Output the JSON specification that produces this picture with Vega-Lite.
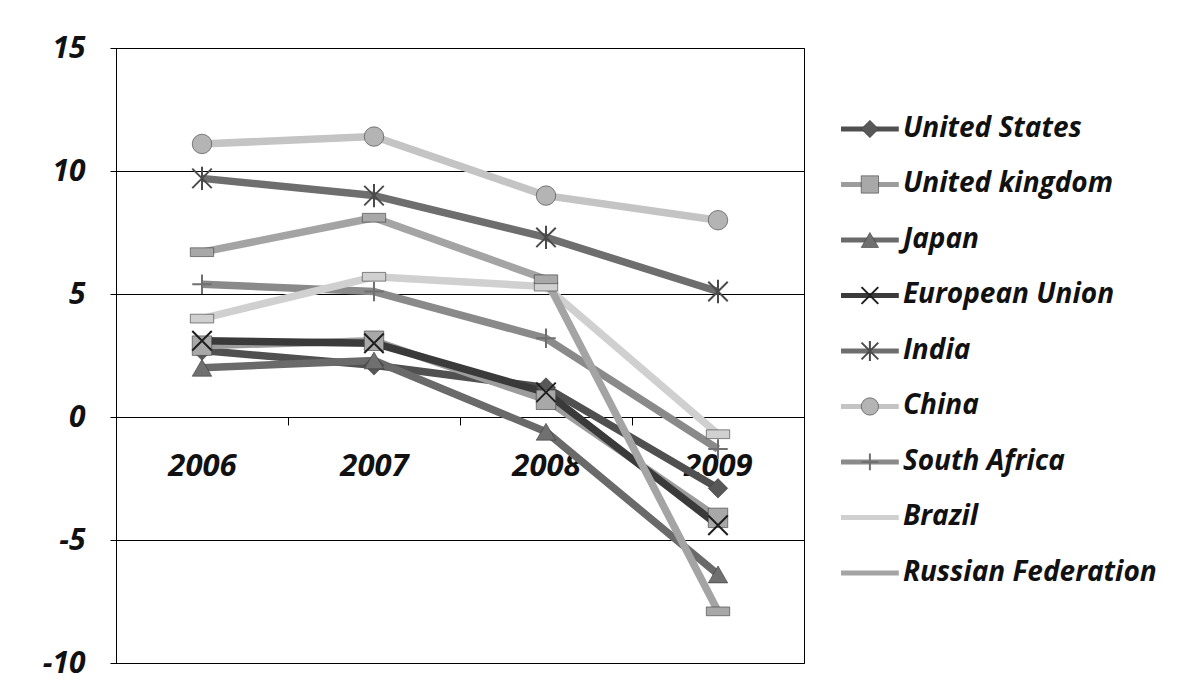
{
  "$schema": "https://vega.github.io/schema/vega-lite/v6.json",
  "padding": {"left": 41, "top": 32, "right": 5, "bottom": 5},
  "background": "white",
  "bounds": "flush",
  "spacing": 37,
  "config": {"font": "Open Sans"},
  "datasets": {
    "series": [
      {"country": "United  States", "year": "2006", "value": 2.7},
      {"country": "United  States", "year": "2007", "value": 2.1},
      {"country": "United  States", "year": "2008", "value": 1.2},
      {"country": "United  States", "year": "2009", "value": -2.9},
      {"country": "United kingdom", "year": "2006", "value": 2.9},
      {"country": "United kingdom", "year": "2007", "value": 3.1},
      {"country": "United kingdom", "year": "2008", "value": 0.7},
      {"country": "United kingdom", "year": "2009", "value": -4.1},
      {"country": "Japan", "year": "2006", "value": 2.0},
      {"country": "Japan", "year": "2007", "value": 2.3},
      {"country": "Japan", "year": "2008", "value": -0.6},
      {"country": "Japan", "year": "2009", "value": -6.4},
      {"country": "European Union", "year": "2006", "value": 3.1},
      {"country": "European Union", "year": "2007", "value": 3.0},
      {"country": "European Union", "year": "2008", "value": 1.0},
      {"country": "European Union", "year": "2009", "value": -4.4},
      {"country": "India", "year": "2006", "value": 9.7},
      {"country": "India", "year": "2007", "value": 9.0},
      {"country": "India", "year": "2008", "value": 7.3},
      {"country": "India", "year": "2009", "value": 5.1},
      {"country": "China", "year": "2006", "value": 11.1},
      {"country": "China", "year": "2007", "value": 11.4},
      {"country": "China", "year": "2008", "value": 9.0},
      {"country": "China", "year": "2009", "value": 8.0},
      {"country": "South Africa", "year": "2006", "value": 5.4},
      {"country": "South Africa", "year": "2007", "value": 5.1},
      {"country": "South Africa", "year": "2008", "value": 3.2},
      {"country": "South Africa", "year": "2009", "value": -1.3},
      {"country": "Brazil", "year": "2006", "value": 4.0},
      {"country": "Brazil", "year": "2007", "value": 5.7},
      {"country": "Brazil", "year": "2008", "value": 5.3},
      {"country": "Brazil", "year": "2009", "value": -0.7},
      {"country": "Russian Federation", "year": "2006", "value": 6.7},
      {"country": "Russian Federation", "year": "2007", "value": 8.1},
      {"country": "Russian Federation", "year": "2008", "value": 5.6},
      {"country": "Russian Federation", "year": "2009", "value": -7.9}
    ],
    "legend": [
      {"country": "United  States", "order": 1},
      {"country": "United kingdom", "order": 2},
      {"country": "Japan", "order": 3},
      {"country": "European Union", "order": 4},
      {"country": "India", "order": 5},
      {"country": "China", "order": 6},
      {"country": "South Africa", "order": 7},
      {"country": "Brazil", "order": 8},
      {"country": "Russian Federation", "order": 9}
    ]
  },
  "hconcat": [
    {
      "width": 688,
      "height": 615,
      "view": {"stroke": "#000", "strokeWidth": 1},
      "data": {"name": "series"},
      "encoding": {
        "x": {
          "field": "year", "type": "ordinal",
          "scale": {"type": "band", "paddingInner": 0, "paddingOuter": 0},
          "axis": {
            "orient": "bottom", "offset": -246, "tickBand": "extent", "title": null,
            "grid": false, "domainColor": "#000", "tickColor": "#000", "tickSize": 8,
            "labelAngle": 0, "labelFont": "Open Sans", "labelFontSize": 31,
            "labelFontWeight": "bold", "labelFontStyle": "italic", "labelColor": "#111",
            "labelPadding": 26
          }
        },
        "y": {
          "field": "value", "type": "quantitative",
          "scale": {"domain": [-10, 15], "nice": false, "zero": false},
          "axis": {
            "values": [-10, -5, 0, 5, 10, 15], "title": null, "grid": true,
            "gridColor": "#000", "gridOpacity": 1, "gridWidth": 1,
            "domainColor": "#000", "tickColor": "#000", "tickSize": 6,
            "labelFont": "Open Sans", "labelFontSize": 30, "labelFontWeight": "bold",
            "labelFontStyle": "italic", "labelColor": "#111", "labelPadding": 25,
            "labelExpr": "'' + datum.value"
          }
        }
      },
      "layer": [
        {
          "mark": {"type": "line", "strokeWidth": 7.5, "strokeJoin": "round"},
          "encoding": {
            "color": {
              "field": "country", "type": "nominal", "legend": null,
              "scale": {
                "domain": ["United  States", "United kingdom", "Japan", "European Union", "India", "China", "South Africa", "Brazil", "Russian Federation"],
                "range": ["#505050", "#9c9c9c", "#6a6a6a", "#3a3a3a", "#6e6e6e", "#c4c4c4", "#8a8a8a", "#d0d0d0", "#a4a4a4"]
              }
            }
          }
        },
        {
          "transform": [{"filter": {"field": "country", "oneOf": ["United  States", "United kingdom", "Japan", "China", "Brazil", "Russian Federation"]}}],
          "mark": {"type": "point", "filled": true, "size": 380, "opacity": 1, "stroke": "#3a3a3a", "strokeWidth": 0.6},
          "encoding": {
            "fill": {
              "field": "country", "type": "nominal", "legend": null,
              "scale": {
                "domain": ["United  States", "United kingdom", "Japan", "China", "Brazil", "Russian Federation"],
                "range": ["#585858", "#a8a8a8", "#707070", "#b4b4b4", "#d0d0d0", "#a8a8a8"]
              }
            },
            "shape": {
              "field": "country", "type": "nominal", "legend": null,
              "scale": {
                "domain": ["United  States", "United kingdom", "Japan", "European Union", "India", "China", "South Africa", "Brazil", "Russian Federation"],
                "range": ["diamond", "square", "triangle-up", "M-1,-1L1,1M-1,1L1,-1", "M-1,-1L1,1M-1,1L1,-1M0,-1.2L0,1.2", "circle", "M0,-1L0,1M-1,0L1,0", "M-1.2,-0.45L1.2,-0.45L1.2,0.45L-1.2,0.45Z", "M-1.2,-0.45L1.2,-0.45L1.2,0.45L-1.2,0.45Z"]
              }
            }
          }
        },
        {
          "transform": [{"filter": {"field": "country", "oneOf": ["European Union", "India", "South Africa"]}}],
          "mark": {"type": "point", "filled": false, "size": 380, "opacity": 1, "strokeWidth": 2},
          "encoding": {
            "stroke": {
              "field": "country", "type": "nominal", "legend": null,
              "scale": {
                "domain": ["European Union", "India", "South Africa"],
                "range": ["#1e1e1e", "#4a4a4a", "#707070"]
              }
            },
            "shape": {"field": "country", "type": "nominal", "legend": null}
          }
        }
      ]
    },
    {
      "width": 340,
      "height": 615,
      "view": {"stroke": null},
      "data": {"name": "legend"},
      "encoding": {
        "y": {
          "field": "order", "type": "quantitative", "axis": null,
          "scale": {"domain": [-0.459, 10.622], "reverse": true, "nice": false, "zero": false}
        }
      },
      "layer": [
        {
          "mark": {"type": "rule", "strokeWidth": 5},
          "encoding": {
            "x": {"datum": 0, "type": "quantitative", "axis": null, "scale": {"domain": [0, 10], "nice": false, "zero": false}},
            "x2": {"datum": 1.7},
            "color": {"field": "country", "type": "nominal", "legend": null}
          }
        },
        {
          "transform": [{"filter": {"field": "country", "oneOf": ["United  States", "United kingdom", "Japan", "China"]}}],
          "mark": {"type": "point", "filled": true, "size": 300, "opacity": 1, "stroke": "#3a3a3a", "strokeWidth": 0.6},
          "encoding": {
            "x": {"datum": 0.85, "type": "quantitative"},
            "fill": {"field": "country", "type": "nominal", "legend": null},
            "shape": {"field": "country", "type": "nominal", "legend": null}
          }
        },
        {
          "transform": [{"filter": {"field": "country", "oneOf": ["European Union", "India", "South Africa"]}}],
          "mark": {"type": "point", "filled": false, "size": 280, "opacity": 1, "strokeWidth": 2},
          "encoding": {
            "x": {"datum": 0.85, "type": "quantitative"},
            "stroke": {"field": "country", "type": "nominal", "legend": null},
            "shape": {"field": "country", "type": "nominal", "legend": null}
          }
        },
        {
          "mark": {"type": "text", "align": "left", "baseline": "middle", "font": "Open Sans", "fontSize": 28, "fontWeight": "bold", "fontStyle": "italic", "color": "#111"},
          "encoding": {
            "x": {"datum": 1.82, "type": "quantitative"},
            "text": {"field": "country"}
          }
        }
      ]
    }
  ]
}
